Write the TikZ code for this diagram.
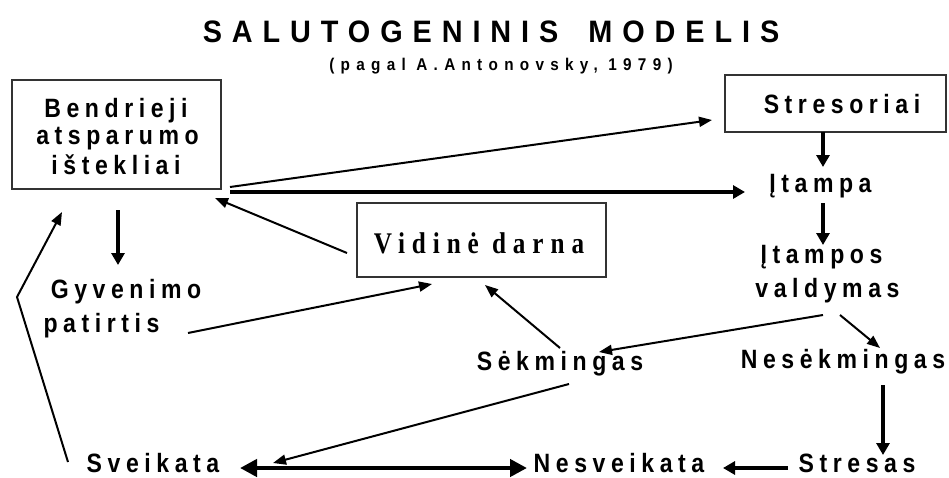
\documentclass[tikz,border=0pt]{standalone}
\usepackage{fontspec}
\usetikzlibrary{arrows.meta}
\setmainfont{Liberation Sans}
\newfontfamily\labfont{Liberation Sans}[FakeStretch=0.87,LetterSpace=21]
\newfontfamily\titfont{Liberation Sans}[FakeStretch=0.93,LetterSpace=32]
\newfontfamily\subfont{Liberation Sans}[FakeStretch=0.9,LetterSpace=37]
\newfontfamily\serfont{Liberation Serif}[FakeStretch=0.84,LetterSpace=23]
\begin{document}
\begin{tikzpicture}[x=1pt,y=-1pt,
  lbl/.style={inner sep=0pt,anchor=base,font=\labfont\bfseries\fontsize{26.5}{31}\selectfont},
  frame/.style={draw=black!80,line width=1.8pt,inner sep=0pt,fill=white},
  thin/.style={line width=2pt,-{Triangle[length=13pt,width=10pt]}},
  thick/.style={line width=3.5pt,-{Triangle[length=12pt,width=13pt]}},
  both/.style={line width=4.5pt,{Triangle[length=17pt,width=17pt]}-{Triangle[length=17pt,width=17pt]}}]
\useasboundingbox (0,0) rectangle (949,477);
\fill[white] (0,0) rectangle (949,477);

% heading
\node[inner sep=0pt,anchor=base,font=\titfont\bfseries\fontsize{31}{36}\selectfont] (title) at (491,42) {SALUTOGENINIS\hspace{30pt}MODELIS};
\node[inner sep=0pt,anchor=base,font=\subfont\bfseries\fontsize{17}{20}\selectfont] (sub) at (501,70) {(pagal A.Antonovsky, 1979)};

% boxes
\node[frame,minimum width=209pt,minimum height=109pt] (bendr) at (116.5,134.5) {};
\node[frame,minimum width=221pt,minimum height=57pt] (stres) at (835.5,103.5) {};
\node[frame,minimum width=249pt,minimum height=74pt] (vid) at (481.5,240) {};

% labels
\node[lbl] (b1) at (116,117) {Bendrieji};
\node[lbl] (b2) at (117.5,144) {atsparumo};
\node[lbl] (b3) at (116,174) {ištekliai};
\node[lbl] (strt) at (842,113) {Stresoriai};
\node[inner sep=0pt,anchor=base,font=\serfont\bfseries\fontsize{30}{34}\selectfont] (vidt) at (479,253) {Vidinė darna};
\node[lbl] (itampa) at (820.5,192) {Įtampa};
\node[lbl] (itampos) at (821.5,263) {Įtampos};
\node[lbl] (valdymas) at (827.5,297) {valdymas};
\node[lbl] (gyv) at (126,298) {Gyvenimo};
\node[lbl] (pat) at (101.5,332) {patirtis};
\node[lbl] (sek) at (560,370) {Sėkmingas};
\node[lbl] (nesek) at (843,368) {Nesėkmingas};
\node[lbl] (sveik) at (153,472) {Sveikata};
\node[lbl] (nesv) at (619,472) {Nesveikata};
\node[lbl] (strs) at (857,472) {Stresas};

% connectors
\draw[thin] ([shift={(113.5,52.5)}]bendr.center) -- ([shift={(-123.5,16.5)}]stres.center);
\draw[thick] ([shift={(113.5,57.5)}]bendr.center) -- ([shift={(-75.5,0)}]itampa.base);
\draw[thick] ([shift={(-12.5,28.5)}]stres.center) -- ([shift={(2.5,-25)}]itampa.base);
\draw[thick] ([shift={(2.5,11)}]itampa.base) -- ([shift={(1.5,-18)}]itampos.base);
\draw[thin] ([shift={(-134.5,13)}]vid.center) -- ([shift={(98.5,63.5)}]bendr.center);
\draw[thick] ([shift={(1.5,75.5)}]bendr.center) -- ([shift={(-8,-33)}]gyv.base);
\draw[thin] ([shift={(86.5,1)}]pat.base) -- ([shift={(-49.5,44)}]vid.center);
\draw[thin] ([shift={(0,-22)}]sek.base) -- ([shift={(3.5,45)}]vid.center);
\draw[thin] ([shift={(-4.5,18)}]valdymas.base) -- ([shift={(39,-18)}]sek.base);
\draw[thin] ([shift={(12.5,18)}]valdymas.base) -- ([shift={(37,-20)}]nesek.base);
\draw[thick] ([shift={(40,17)}]nesek.base) -- ([shift={(26,-17)}]strs.base);
\draw[thick] ([shift={(-69,-4)}]strs.base) -- ([shift={(104,-4)}]nesv.base);
\draw[both] ([shift={(87,-4)}]sveik.base) -- ([shift={(-92,-4)}]nesv.base);
\draw[thin] ([shift={(9,14)}]sek.base) -- ([shift={(120,-9)}]sveik.base);
\draw[thin,line join=miter] ([shift={(-85,-10)}]sveik.base) -- ([shift={(-99.5,162.5)}]bendr.center) -- ([shift={(-54.5,77.5)}]bendr.center);
\end{tikzpicture}
\end{document}
